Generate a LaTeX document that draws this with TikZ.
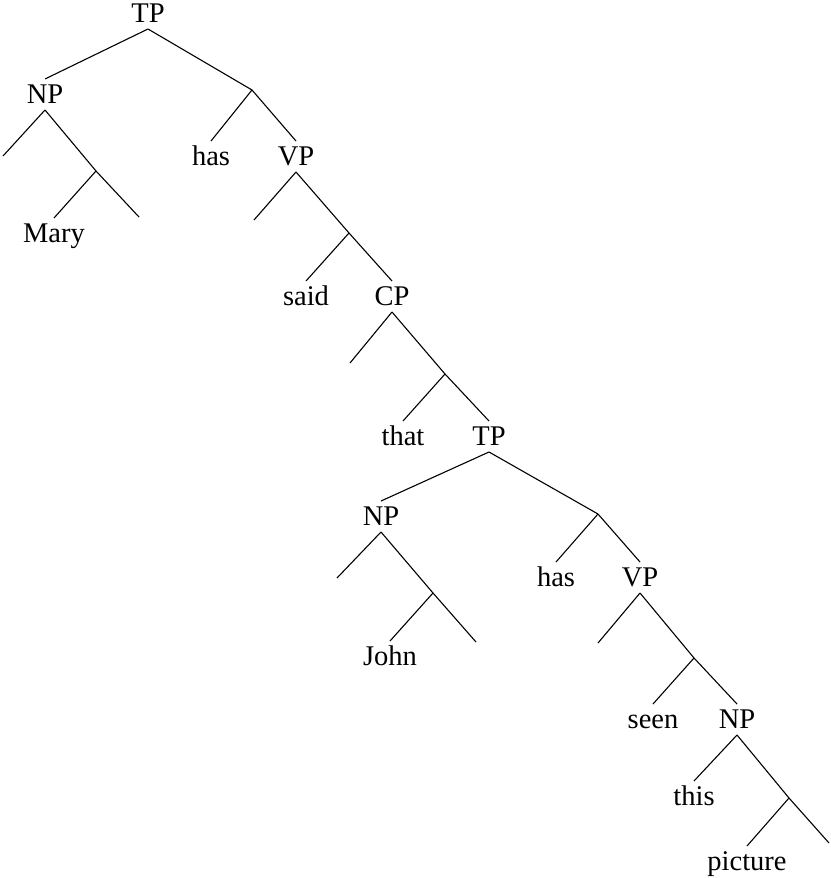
\documentclass[tikz,border=0pt]{standalone}
\usepackage{fontspec}
\setmainfont{Liberation Serif}
\begin{document}
\begin{tikzpicture}[x=1pt, y=-1pt,
  lbl/.style={anchor=base, inner sep=0pt, outer sep=5pt,
              text height=19pt, text depth=2pt,
              font=\fontsize{28.5}{34}\selectfont},
  every path/.style={line width=1.1pt}]
\useasboundingbox (0,0) rectangle (830,878);

% labels
\node[lbl] (tp1) at (148,22) {TP};
\node[lbl] (np1) at (45,103) {NP};
\node[lbl] (has1) at (211,165) {has};
\node[lbl] (vp1) at (296,165) {VP};
\node[lbl] (mary) at (54,242) {Mary};
\node[lbl] (said) at (306,305) {said};
\node[lbl] (cp) at (392,305) {CP};
\node[lbl] (that) at (403,445) {that};
\node[lbl] (tp2) at (489,445) {TP};
\node[lbl] (np2) at (381,525) {NP};
\node[lbl] (has2) at (556,586) {has};
\node[lbl] (vp2) at (640,586) {VP};
\node[lbl] (john) at (390,665) {John};
\node[lbl] (seen) at (653,728) {seen};
\node[lbl] (np3) at (737,728) {NP};
\node[lbl] (this) at (694,805) {this};
\node[lbl] (picture) at (747,870) {picture};

% branch points and empty leaves
\coordinate (b1) at (252,90);
\coordinate (n1L) at (3,156);
\coordinate (n1m) at (96,171);
\coordinate (n1R) at (139,217);
\coordinate (v1L) at (254,220);
\coordinate (v1m) at (349,233);
\coordinate (c1L) at (350,363);
\coordinate (c1m) at (445,374);
\coordinate (t2b) at (598,514);
\coordinate (n2L) at (337,578);
\coordinate (n2m) at (433,593);
\coordinate (n2R) at (476,642);
\coordinate (v2L) at (598,643);
\coordinate (v2m) at (694,658);
\coordinate (n3m) at (789,798);
\coordinate (n3R) at (829,843);

% branches
\draw (tp1.south) -- (np1.north);
\draw (tp1.south) -- (b1);
\draw (b1) -- (has1.north);
\draw (b1) -- (vp1.north);

\draw (np1.south) -- (n1L);
\draw (np1.south) -- (n1m);
\draw (n1m) -- (mary.north);
\draw (n1m) -- (n1R);

\draw (vp1.south) -- (v1L);
\draw (vp1.south) -- (v1m);
\draw (v1m) -- (said.north);
\draw (v1m) -- (cp.north);

\draw (cp.south) -- (c1L);
\draw (cp.south) -- (c1m);
\draw (c1m) -- (that.north);
\draw (c1m) -- (tp2.north);

\draw (tp2.south) -- (np2.north);
\draw (tp2.south) -- (t2b);
\draw (t2b) -- (has2.north);
\draw (t2b) -- (vp2.north);

\draw (np2.south) -- (n2L);
\draw (np2.south) -- (n2m);
\draw (n2m) -- (john.north);
\draw (n2m) -- (n2R);

\draw (vp2.south) -- (v2L);
\draw (vp2.south) -- (v2m);
\draw (v2m) -- (seen.north);
\draw (v2m) -- (np3.north);

\draw (np3.south) -- (this.north);
\draw (np3.south) -- (n3m);
\draw (n3m) -- (picture.north);
\draw (n3m) -- (n3R);
\end{tikzpicture}
\end{document}
